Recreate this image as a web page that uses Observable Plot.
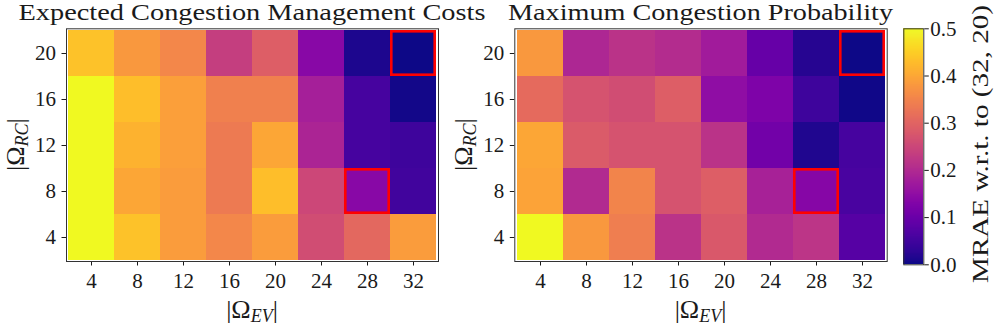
<!DOCTYPE html>
<html><head><meta charset="utf-8">
<script src="https://cdn.jsdelivr.net/npm/d3@7"></script>
<script src="https://cdn.jsdelivr.net/npm/@observablehq/plot@0.6"></script>
<style>
body{margin:0;background:#fff;}
#chart{position:relative;width:997px;height:327px;overflow:hidden;background:#fff;}
#chart svg{position:absolute;top:0;overflow:visible;}
</style></head><body><div id="chart"></div>
<script>
// |Omega_EV| (columns) and |Omega_RC| (rows, top to bottom)
const evSizes = [4, 8, 12, 16, 20, 24, 28, 32];
const rcSizes = [20, 16, 12, 8, 4];
// MRAE w.r.t. (32, 20) – Expected Congestion Management Costs (rows follow rcSizes)
const costMRAE = [
  [0.435, 0.38, 0.355, 0.235, 0.29, 0.14, 0.012, 0.0],
  [0.50, 0.43, 0.39, 0.345, 0.345, 0.18, 0.055, 0.004],
  [0.50, 0.415, 0.39, 0.335, 0.40, 0.19, 0.055, 0.045],
  [0.50, 0.40, 0.385, 0.335, 0.43, 0.25, 0.14, 0.05],
  [0.50, 0.435, 0.385, 0.355, 0.385, 0.26, 0.305, 0.385]
];
// MRAE w.r.t. (32, 20) – Maximum Congestion Probability
const probMRAE = [
  [0.38, 0.195, 0.215, 0.205, 0.175, 0.095, 0.02, 0.0],
  [0.31, 0.27, 0.26, 0.29, 0.15, 0.125, 0.045, 0.002],
  [0.40, 0.285, 0.27, 0.27, 0.215, 0.11, 0.015, 0.055],
  [0.395, 0.20, 0.35, 0.27, 0.29, 0.185, 0.135, 0.06],
  [0.50, 0.38, 0.34, 0.215, 0.28, 0.20, 0.22, 0.075]
];
const highlightEV = [32, 28];
const highlightRC = [20, 8];
const panelTitles = ["Expected Congestion Management Costs", "Maximum Congestion Probability"];
const colorTicks = [0, 0.1, 0.2, 0.3, 0.4, 0.5];
const colorLabel = "MRAE w.r.t. to (32, 20)";

const chart = document.getElementById("chart");
const colorOpts = {type: "linear", scheme: "plasma", domain: [0, 0.5], clamp: true};
const FONT = "Liberation Serif";
const INK = "#1a1a1a";

function panel(values, title, left, width, frameLeft, frameRight, titleLen) {
  const data = [];
  rcSizes.forEach((rc, i) => evSizes.forEach((ev, j) => data.push({ev, rc, v: values[i][j]})));
  const hl = highlightEV.map((ev, i) => ({ev, rc: highlightRC[i]}));
  const frameTop = 28.3, frameBottom = 261;
  const svg = Plot.plot({
    width, height: 327,
    marginLeft: frameLeft - left, marginRight: left + width - frameRight,
    marginTop: frameTop, marginBottom: 327 - frameBottom,
    style: {fontFamily: FONT, fontSize: "21px", background: "none", overflow: "visible", color: INK},
    x: {type: "band", domain: evSizes, padding: 0, label: null, tickSize: 4.5, tickPadding: 7},
    y: {type: "band", domain: rcSizes, padding: 0, label: null, tickSize: 4.5, tickPadding: 6},
    color: colorOpts,
    marks: [
      Plot.cell(data, {x: "ev", y: "rc", fill: "v", inset: 0, shapeRendering: "crispEdges"}),
      Plot.cell(hl, {x: "ev", y: "rc", fill: "none", stroke: "#ff0000", strokeWidth: 2.6, inset: 1.3}),
      Plot.frame({stroke: "#333", strokeWidth: 1})
    ]
  });
  svg.style.left = left + "px";
  const s = d3.select(svg);
  const cx = (frameLeft + frameRight) / 2 - left;
  const cy = (frameTop + frameBottom) / 2;
  s.append("text").attr("x", cx).attr("y", 19.5).attr("text-anchor", "middle")
    .attr("font-size", 24).attr("font-family", FONT).attr("fill", INK)
    .attr("textLength", titleLen).attr("lengthAdjust", "spacingAndGlyphs").text(title);
  // x label |Ω_EV|
  const xl = s.append("text").attr("x", cx).attr("y", 318).attr("text-anchor", "middle")
    .attr("font-family", FONT).attr("font-size", 26).attr("fill", INK);
  xl.append("tspan").text("|Ω");
  xl.append("tspan").attr("font-style", "italic").attr("font-size", 18).attr("dy", 4).text("EV");
  xl.append("tspan").attr("dy", -4).text("|");
  // y label |Ω_RC|
  const yl = s.append("text").attr("transform", `translate(${frameLeft - left - 42},${cy}) rotate(-90)`)
    .attr("text-anchor", "middle").attr("font-family", FONT).attr("font-size", 26).attr("fill", INK);
  yl.append("tspan").text("|Ω");
  yl.append("tspan").attr("font-style", "italic").attr("font-size", 18).attr("dy", 4).text("RC");
  yl.append("tspan").attr("dy", -4).text("|");
  chart.appendChild(svg);
}

panel(costMRAE, panelTitles[0], 0, 480, 66, 438, 467);
panel(probMRAE, panelTitles[1], 440, 455, 514.3, 886.7, 385);

// colorbar
const cbLeft = 895, cbWidth = 102;
const steps = d3.range(0, 500).map(i => i / 1000);
const cb = Plot.plot({
  width: cbWidth, height: 327,
  marginLeft: 903.3 - cbLeft, marginRight: cbLeft + cbWidth - 923.3,
  marginTop: 28.3, marginBottom: 327 - 264.3,
  style: {fontFamily: FONT, fontSize: "21px", background: "none", overflow: "visible", color: INK},
  x: {domain: [0, 1], axis: null},
  y: {domain: [0, 0.5], ticks: colorTicks, tickFormat: d3.format(".1f"), axis: "right", tickSize: 4.5, tickPadding: 2, label: null},
  color: colorOpts,
  marks: [
    Plot.rect(steps, {x1: 0, x2: 1, y1: d => d, y2: d => d + 0.0012, fill: d => d + 0.0005, shapeRendering: "crispEdges"}),
    Plot.frame({stroke: "#333", strokeWidth: 1})
  ]
});
cb.style.left = cbLeft + "px";
d3.select(cb).append("text").attr("transform", `translate(${988 - cbLeft},144) rotate(-90)`)
  .attr("text-anchor", "middle").attr("font-family", FONT).attr("font-size", 24).attr("fill", INK)
  .attr("textLength", 278).attr("lengthAdjust", "spacingAndGlyphs").text(colorLabel);
chart.appendChild(cb);
</script></body></html>
